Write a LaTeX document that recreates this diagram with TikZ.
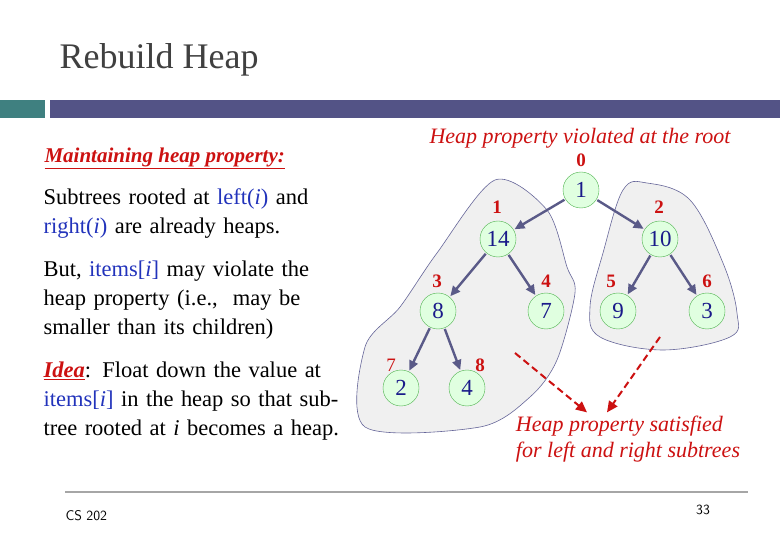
\documentclass[tikz,border=0pt]{standalone}
\usepackage{fontspec}
\setmainfont{Liberation Serif}
\usetikzlibrary{arrows.meta}
\definecolor{barteal}{HTML}{3F8080}
\definecolor{barblue}{HTML}{535386}
\definecolor{edgecol}{HTML}{5A5A88}
\definecolor{keyred}{HTML}{CC1111}
\definecolor{valblue}{HTML}{1A1A8A}
\definecolor{linkblue}{HTML}{2233BB}
\tikzset{
	heapnode/.style={circle, draw=green!40!gray, fill=green!12, minimum size=36pt, inner sep=0pt, font=\fontsize{23}{23}\selectfont, text=valblue},
	idx/.style={font=\bfseries\fontsize{19}{19}\selectfont, text=keyred},
	tree/.style={-{Triangle[length=10pt, width=9pt]}, line width=2.4pt, draw=edgecol, shorten <=1pt, shorten >=1pt},
	blob/.style={draw=gray!80!blue, fill=gray!12, line width=0.6pt},
	hint/.style={-{Triangle[length=11pt, width=10pt]}, dash pattern=on 7pt off 4pt, line width=2pt, draw=keyred},
	body/.style={anchor=north west, align=left, text width=300pt, font=\raggedright\fontsize{22.5}{29}\selectfont}
}
\begin{document}
\begin{tikzpicture}[x=1pt, y=-1pt]
	\useasboundingbox (0,0) rectangle (780,540);
	% header
	\node [anchor=west, text=black!75, font=\fontsize{36}{36}\selectfont] (title) at (56,60) {Rebuild Heap};
	\fill [barteal] (0,100) rectangle (45,118);
	\fill [barblue] (50,100) rectangle (780,118);
	% subtrees
	\draw [blob] plot [smooth cycle, tension=0.5] coordinates {(365,347) (400,307) (437,253) (495,180) (547,210) (567,267) (575,293) (557,360) (530,397) (480,427) (365,427)};
	\draw [blob] plot [smooth cycle, tension=0.6] coordinates {(623,190) (647,183) (690,200) (723,263) (737,313) (730,337) (663,350) (600,337) (590,307) (603,253)};
	% nodes
	\node [heapnode] (n0) at (581,190) {1};
	\node [heapnode] (n1) at (498,239) {14};
	\node [heapnode] (n2) at (660,239) {10};
	\node [heapnode] (n3) at (438,311) {8};
	\node [heapnode] (n4) at (546,311) {7};
	\node [heapnode] (n5) at (618,311) {9};
	\node [heapnode] (n6) at (707,311) {3};
	\node [heapnode] (n7) at (401,388) {2};
	\node [heapnode] (n8) at (467,388) {4};
	\node [idx] (i0) at (581,160) {0};
	\node [idx] (i1) at (497,207) {1};
	\node [idx] (i2) at (659,207) {2};
	\node [idx] (i3) at (437,281) {3};
	\node [idx] (i4) at (546,281) {4};
	\node [idx] (i5) at (611,281) {5};
	\node [idx] (i6) at (707,281) {6};
	\node [idx, font=\fontsize{19}{19}\selectfont] (i7) at (391,365) {7};
	\node [idx] (i8) at (480,365) {8};
	\draw [tree] (n0) -- (n1);
	\draw [tree] (n0) -- (n2);
	\draw [tree] (n1) -- (n3);
	\draw [tree] (n1) -- (n4);
	\draw [tree] (n2) -- (n5);
	\draw [tree] (n2) -- (n6);
	\draw [tree] (n3) -- (n7);
	\draw [tree] (n3) -- (n8);
	% captions
	\node [text=keyred, font=\itshape\fontsize{22}{22}\selectfont] (top) at (580,138) {Heap property violated at the root};
	\node [text=keyred, align=left, font=\itshape\fontsize{22}{26}\selectfont] (bottom) at (628,439) {Heap property satisfied\\for left and right subtrees};
	\coordinate (fromL) at (515,353);
	\coordinate (fromR) at (660,337);
	\draw [hint] (fromL) -- (bottom.north -| 587,0);
	\draw [hint] (fromR) -- (bottom.north -| 607,0);
	% left text
	\node [anchor=west, text=keyred, font=\bfseries\itshape\fontsize{21}{21}\selectfont] (head) at (41,158) {\underline{Maintaining heap property:}};
	\node [body] (p1) at (40,185) {Subtrees rooted at \textcolor{linkblue}{left(\textit{i})} and \textcolor{linkblue}{right(\textit{i})} are already heaps.};
	\node [body] (p2) at (40,257) {But, \textcolor{linkblue}{items[\textit{i}]} may violate the heap property (i.e.,~ may be smaller than its children)};
	\node [body] (p3) at (40,358) {\textcolor{keyred}{\textbf{\textit{\underline{Idea}}}}: Float down the value at \textcolor{linkblue}{items[\textit{i}]} in the heap so that subtree rooted at \textit{i} becomes a heap.};
	% footer
	\draw [gray!70, line width=2pt] (65,492) -- (748,492);
	\node [anchor=west, font=\sffamily\fontsize{14}{14}\selectfont] (course) at (62,516) {CS 202};
	\node [font=\sffamily\fontsize{14}{14}\selectfont] (page) at (703,510) {33};
\end{tikzpicture}
\end{document}
